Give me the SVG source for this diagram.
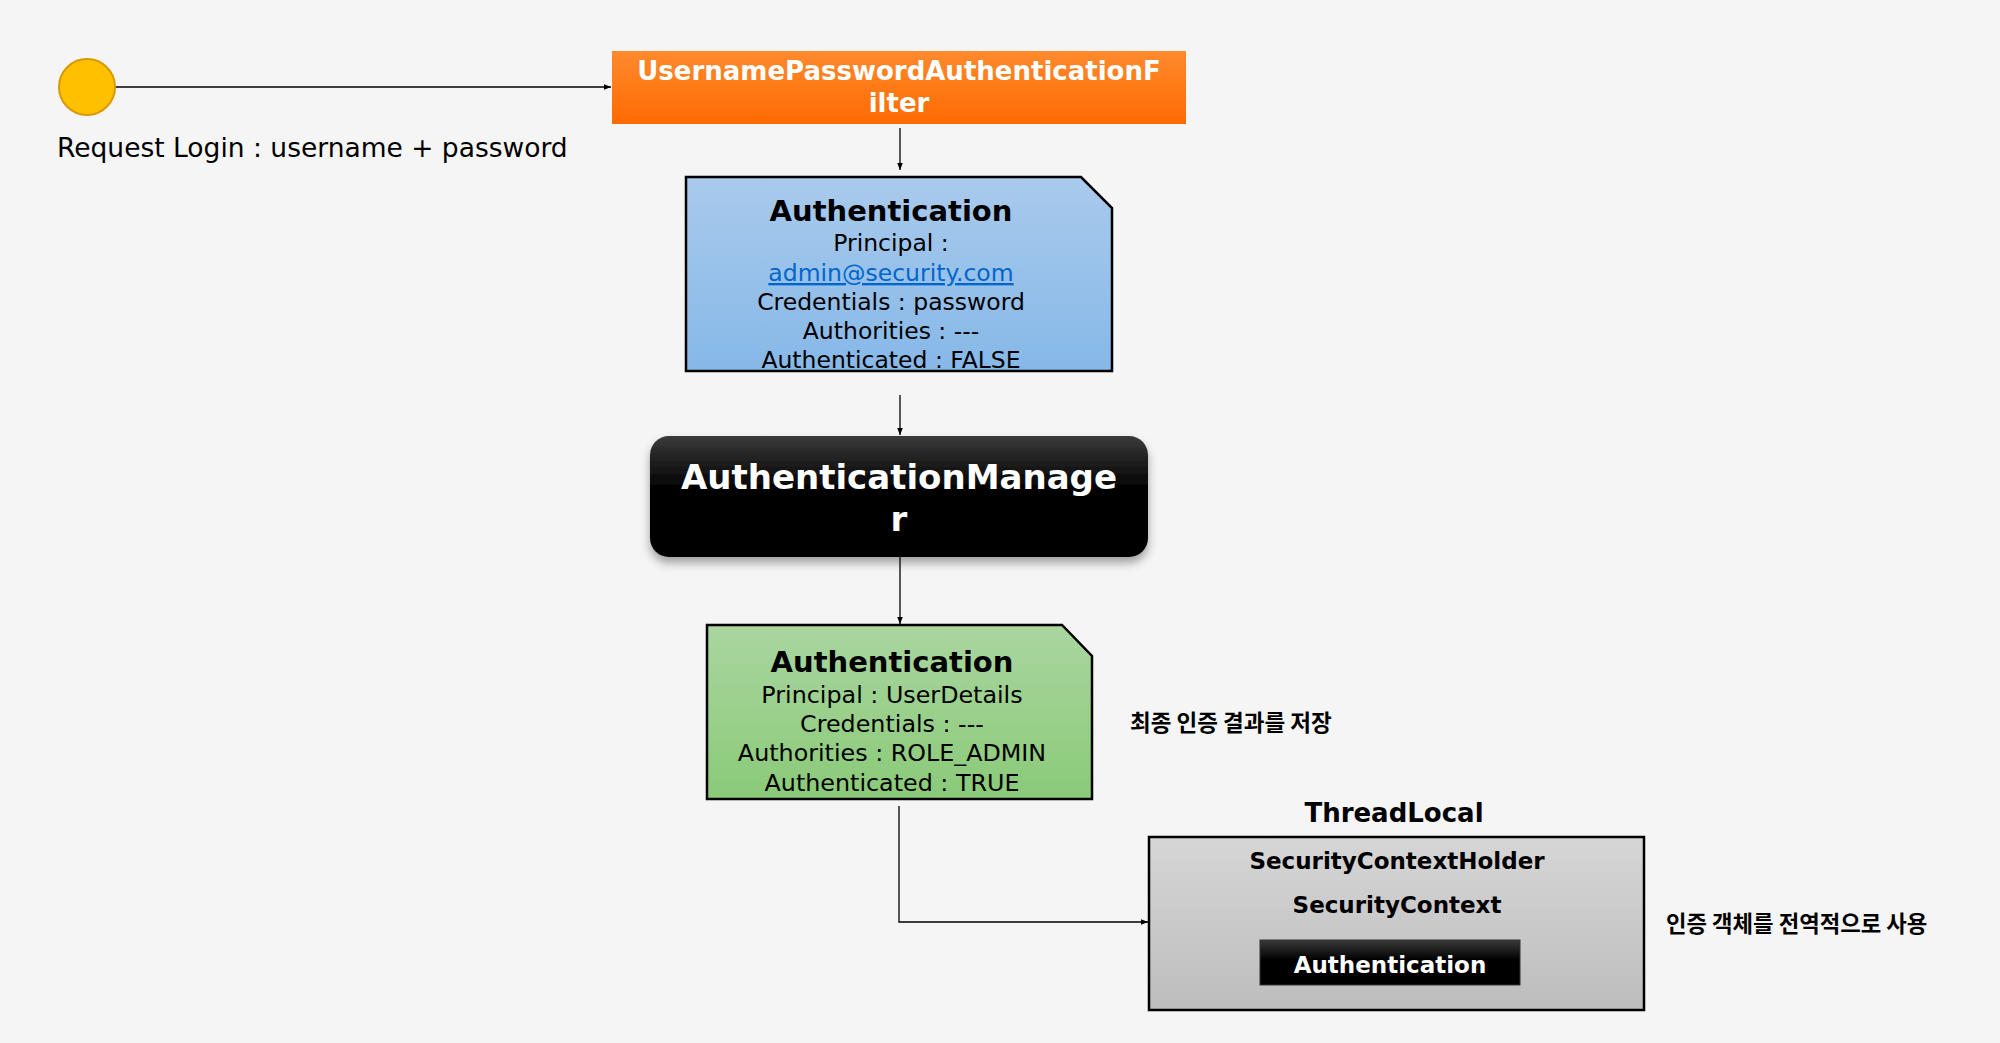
<svg xmlns="http://www.w3.org/2000/svg" width="2000" height="1043" viewBox="0 0 2000 1043">
<style>
.t{font-family:"DejaVu Sans",Verdana,sans-serif;fill:#000;text-anchor:middle}
.b{font-weight:bold}
.w{fill:#fff}
.k{font-family:"Noto Sans CJK KR","Noto Sans",sans-serif;font-weight:bold;fill:#000}
.edge{fill:none;stroke:#000;stroke-width:1.3}
</style>
<defs>
<linearGradient id="gOr" x1="0" y1="0" x2="0" y2="1"><stop offset="0" stop-color="#FF8A2E"/><stop offset="1" stop-color="#FF6A00"/></linearGradient>
<linearGradient id="gBl" x1="0" y1="0" x2="0" y2="1"><stop offset="0" stop-color="#A9CAEC"/><stop offset="1" stop-color="#86B8E8"/></linearGradient>
<linearGradient id="gGr" x1="0" y1="0" x2="0" y2="1"><stop offset="0" stop-color="#AAD6A0"/><stop offset="1" stop-color="#8ACA78"/></linearGradient>
<linearGradient id="gBk" x1="0" y1="0" x2="0" y2="1"><stop offset="0" stop-color="#3A3A3A"/><stop offset="0.45" stop-color="#000"/><stop offset="1" stop-color="#000"/></linearGradient>
<linearGradient id="gGy" x1="0" y1="0" x2="0" y2="1"><stop offset="0" stop-color="#D6D6D6"/><stop offset="1" stop-color="#BDBDBD"/></linearGradient>
<filter id="sh" x="-10%" y="-10%" width="120%" height="140%"><feDropShadow dx="0" dy="6" stdDeviation="5" flood-color="#000" flood-opacity="0.35"/></filter>
<marker id="arr" viewBox="0 0 10 10" refX="10" refY="5" markerWidth="7" markerHeight="7" markerUnits="userSpaceOnUse" orient="auto"><path d="M0,1 L10,5 L0,9 Z" fill="#000"/></marker>
</defs>
<rect x="0" y="0" width="2000" height="1043" fill="#F5F5F5"/>

<g id="connectors">
<path class="edge" d="M115,87 H611" marker-end="url(#arr)"/>
<path class="edge" d="M900,128 V170" marker-end="url(#arr)"/>
<path class="edge" d="M900,395 V435" marker-end="url(#arr)"/>
<path class="edge" d="M900,557 V624" marker-end="url(#arr)"/>
<path class="edge" d="M899,806 V922 H1148" marker-end="url(#arr)"/>
</g>

<g id="start">
<circle cx="87" cy="87" r="28" fill="#FFC000" stroke="#D79B00" stroke-width="2"/>
<text class="t" x="57" y="157" font-size="26.5" style="text-anchor:start">Request Login : username + password</text>
</g>

<g id="filter">
<rect x="612" y="51" width="574" height="73" fill="url(#gOr)"/>
<text class="t b w" x="899" y="80" font-size="26">UsernamePasswordAuthenticationF</text>
<text class="t b w" x="899" y="112" font-size="26">ilter</text>
</g>

<g id="auth1">
<path d="M686,177 H1081 L1112,208 V371 H686 Z" fill="url(#gBl)" stroke="#000" stroke-width="2.5"/>
<text class="t b" x="891" y="221" font-size="29">Authentication</text>
<text class="t" x="891" y="251" font-size="23.5">Principal :</text>
<text class="t" x="891" y="281" font-size="23.5" style="fill:#0066CC" text-decoration="underline">admin@security.com</text>
<text class="t" x="891" y="310" font-size="23.5">Credentials : password</text>
<text class="t" x="891" y="339" font-size="23.5">Authorities : ---</text>
<text class="t" x="891" y="368" font-size="23.5">Authenticated : FALSE</text>
</g>

<g id="manager">
<rect x="650" y="436" width="498" height="121" rx="19" fill="url(#gBk)" filter="url(#sh)"/>
<text class="t b w" x="899" y="489" font-size="34">AuthenticationManage</text>
<text class="t b w" x="899" y="531" font-size="34">r</text>
</g>

<g id="auth2">
<path d="M707,625 H1062 L1092,656 V799 H707 Z" fill="url(#gGr)" stroke="#000" stroke-width="2.5"/>
<text class="t b" x="892" y="672" font-size="29">Authentication</text>
<text class="t" x="892" y="703" font-size="23.8">Principal : UserDetails</text>
<text class="t" x="892" y="732" font-size="23.8">Credentials : ---</text>
<text class="t" x="892" y="761" font-size="23.8">Authorities : ROLE_ADMIN</text>
<text class="t" x="892" y="791" font-size="23.8">Authenticated : TRUE</text>
</g>

<g id="note1">
<text class="k" x="1130" y="731" font-size="22.5">최종 인증 결과를 저장</text>
</g>

<g id="threadlocal">
<text class="t b" x="1394" y="822" font-size="26">ThreadLocal</text>
<rect x="1149" y="837" width="495" height="173" fill="url(#gGy)" stroke="#000" stroke-width="2.5"/>
<text class="t b" x="1397" y="869" font-size="23">SecurityContextHolder</text>
<text class="t b" x="1397" y="913" font-size="23">SecurityContext</text>
<rect x="1260" y="940" width="260" height="45" fill="url(#gBk)" stroke="#333" stroke-width="1"/>
<text class="t b w" x="1390" y="973" font-size="23">Authentication</text>
</g>

<g id="note2">
<text class="k" x="1666" y="932" font-size="22.3">인증 객체를 전역적으로 사용</text>
</g>
</svg>
